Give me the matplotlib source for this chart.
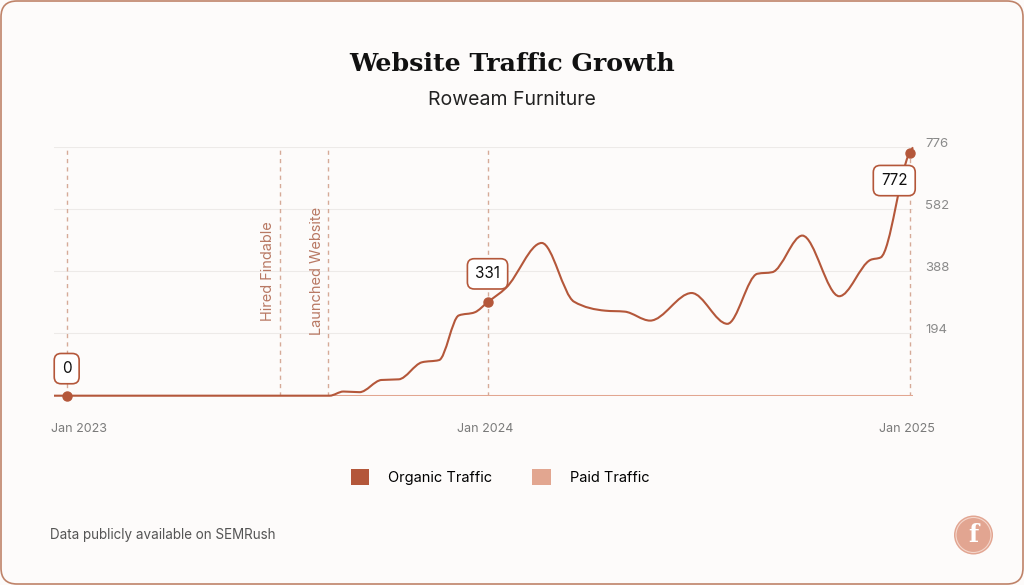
import numpy as np
import pandas as pd
import matplotlib
matplotlib.use("Agg")
import matplotlib.pyplot as plt
import matplotlib.dates as mdates
from matplotlib.path import Path
from matplotlib.patches import PathPatch, Patch, FancyBboxPatch, Circle

# organic traffic
dates = ["2022-12-21", "2023-01-01", "2023-08-17", "2023-08-29", "2023-09-12",
         "2023-10-01", "2023-10-16", "2023-11-05", "2023-11-20", "2023-12-07",
         "2023-12-21", "2024-01-01", "2024-01-17", "2024-02-17", "2024-03-16",
         "2024-04-12", "2024-04-29", "2024-05-21", "2024-06-26", "2024-07-27",
         "2024-08-22", "2024-09-04", "2024-09-30", "2024-11-01", "2024-11-28",
         "2024-12-07", "2025-01-01", "2025-01-04"]
organic = [0, 0, 0, 13, 11, 49, 51, 104, 111, 250, 260, 291, 336, 476, 293,
           265, 262, 234, 320, 224, 380, 385, 499, 310, 423, 431, 757, 774]
paid = [0] * len(dates)

yticks = [194, 388, 582, 776]
xlabels = ["Jan 2023", "Jan 2024", "Jan 2025"]
xlabel_dates = ["2023-01-01", "2024-01-01", "2025-01-01"]
events = ["Hired Findable", "Launched Website"]
event_dates = ["2023-07-05", "2023-08-16"]
callout_dates = ["2023-01-01", "2024-01-01", "2025-01-01"]
callout_text = ["0", "331", "772"]

dark = "#B4573A"
light = "#E2A690"
dash_col = "#D6AA98"
bg = "#FDFBFA"
sans = "Inter"

x = mdates.date2num(pd.to_datetime(dates))
y = np.array(organic, dtype=float)


def monotone_path(xs, ys):
    # monotone cubic (d3 curveMonotoneX style) as bezier segments
    h = np.diff(xs)
    s = np.diff(ys) / h
    m = np.zeros(len(xs))
    for i in range(1, len(xs) - 1):
        p = (s[i - 1] * h[i] + s[i] * h[i - 1]) / (h[i - 1] + h[i])
        m[i] = (np.sign(s[i - 1]) + np.sign(s[i])) * min(abs(s[i - 1]), abs(s[i]), 0.5 * abs(p))
    m[0] = (3 * s[0] - m[1]) / 2
    m[-1] = (3 * s[-1] - m[-2]) / 2
    verts = [(xs[0], ys[0])]
    codes = [Path.MOVETO]
    for i in range(len(xs) - 1):
        d = h[i] / 3
        verts += [(xs[i] + d, ys[i] + m[i] * d), (xs[i + 1] - d, ys[i + 1] - m[i + 1] * d),
                  (xs[i + 1], ys[i + 1])]
        codes += [Path.CURVE4] * 3
    return Path(verts, codes)


fig = plt.figure(figsize=(10.24, 5.85), dpi=100, facecolor=bg)
ax = fig.add_axes([54 / 1024, 1 - 395.7 / 585, 859 / 1024, 249 / 585])
ax.set_facecolor("none")
ax.set_xlim(x[0], x[-1])
ax.set_ylim(0, 776)
for sp in ax.spines.values():
    sp.set_visible(False)

for v in yticks:
    ax.axhline(v, color="#EDEAE8", lw=0.8, zorder=0)

for d in xlabel_dates + event_dates:
    ax.axvline(mdates.date2num(pd.Timestamp(d)), color=dash_col, lw=1,
               ls=(0, (3, 3)), zorder=1)

ax.plot(x, paid, color=light, lw=2.2, zorder=2, solid_capstyle="butt")
ax.add_patch(PathPatch(monotone_path(x, y), fc="none", ec=dark, lw=1.5,
                       zorder=3, clip_on=False))

ax.yaxis.tick_right()
ax.set_yticks(yticks)
ax.set_yticklabels([str(v) for v in yticks], fontsize=9.5, color="#8A8A8A",
                   family=sans, va="baseline")
ax.tick_params(axis="y", length=0, pad=9)
ax.set_xticks([])

for i, (lab, d) in enumerate(zip(xlabels, xlabel_dates)):
    xd = mdates.date2num(pd.Timestamp(d))
    if i == 0:
        ax.annotate(lab, (x[0], 0), xytext=(-2.5, -24), textcoords="offset points",
                    ha="left", va="center", fontsize=9, color="#7A7A7A", family=sans)
    else:
        ax.annotate(lab, (xd, 0), xytext=(-2, -24), textcoords="offset points",
                    ha="center", va="center", fontsize=9, color="#7A7A7A", family=sans)

for lab, d in zip(events, event_dates):
    xd = mdates.date2num(pd.Timestamp(d))
    ax.annotate(lab, (xd, 0.5), xycoords=ax.get_xaxis_transform(), xytext=(-3.5, 0),
                textcoords="offset points", rotation=90, ha="right", va="center",
                fontsize=10.5, color="#B87863", family=sans)

offsets = [(0, 19.5), (0, 20.5), (-11, -20)]
for d, lab, off in zip(callout_dates, callout_text, offsets):
    xd = mdates.date2num(pd.Timestamp(d))
    idx = list(pd.to_datetime(dates)).index(pd.Timestamp(d))
    yd = organic[idx]
    ax.plot([xd], [yd], "o", color=dark, ms=6.5, zorder=5, clip_on=False)
    ax.annotate(lab, (xd, yd), xytext=off, textcoords="offset points",
                ha="center", va="center", fontsize=11, color="#111111", family=sans,
                zorder=6,
                bbox=dict(boxstyle="round,pad=0.5,rounding_size=0.45", fc="white",
                          ec=dark, lw=1.2))

fig.text(0.5, 1 - 64 / 585, "Website Traffic Growth", ha="center", va="center",
         fontsize=18.2, fontweight="bold", family="DejaVu Serif", color="#111111")
fig.text(0.5, 1 - 100 / 585, "Roweam Furniture", ha="center", va="center",
         fontsize=14, family=sans, color="#222222")

handles = [Patch(fc=dark, ec="none"), Patch(fc=light, ec="none")]
fig.legend(handles, ["Organic Traffic", "Paid Traffic"], loc="center",
           bbox_to_anchor=(500 / 1024, 1 - 477 / 585), ncol=2, frameon=False,
           handlelength=1.3, handleheight=1.3, handletextpad=1.3, columnspacing=2.7,
           prop={"family": sans, "size": 10.5})

fig.text(50 / 1024, 1 - 535 / 585, "Data publicly available on SEMRush", ha="left",
         va="center", fontsize=9.7, family=sans, color="#555555")

fig.add_artist(FancyBboxPatch((1, 1), 1022, 583, boxstyle="round,pad=0,rounding_size=16",
                              transform=None, fc="none", ec="#BF8369", lw=1.2))
fig.add_artist(Circle((973.5, 585 - 535), 19.5, transform=None, fc="#E2A591", ec="none"))
fig.add_artist(Circle((973.5, 585 - 535), 17.5, transform=None, fc="none",
                      ec="#F4D6CB", lw=0.8))
fig.text(973.5 / 1024, 1 - 535 / 585, "f", ha="center", va="center", fontsize=17,
         family="DejaVu Serif", fontweight="bold", color="white")

fig.savefig("out.png", dpi=100, facecolor=bg)
